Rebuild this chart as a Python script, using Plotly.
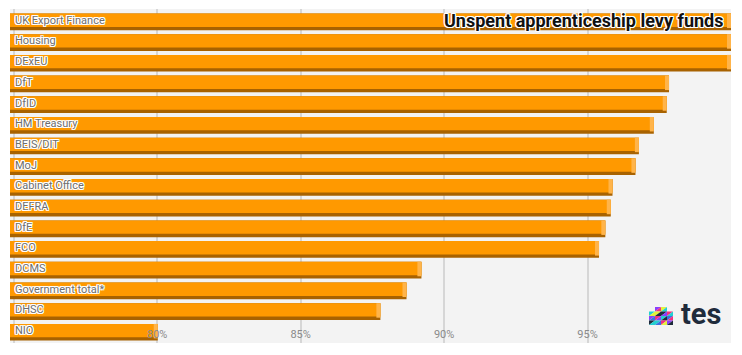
import plotly.graph_objects as go

categories = ["UK Export Finance", "Housing", "DExEU", "DfT", "DfID", "HM Treasury",
              "BEIS/DIT", "MoJ", "Cabinet Office", "DEFRA", "DfE", "FCO", "DCMS",
              "Government total*", "DHSC", "NIO"]
values = [100, 100, 100, 97.84, 97.76, 97.31, 96.79, 96.67, 95.87, 95.81, 95.62,
          95.40, 89.21, 88.69, 87.78, 80.02]
tick_vals = [75, 80, 85, 90, 95, 100]
tick_text = ["", "80%", "85%", "90%", "95%", ""]
title_text = "Unspent apprenticeship levy funds"

X_MIN, X_MAX = 74.87, 100.0
W, H = 742, 355
ML, MR, MT, MB = 10, 11, 9, 12
PW, PH = W - ML - MR, H - MT - MB

FACE = "#FF9900"
DARK = "#A86200"
BEVEL = "#FFB44A"
BEVEL_W = 0.14

white_halo = ("-1px -1px 0 #fff, 1px -1px 0 #fff, -1px 1px 0 #fff, 1px 1px 0 #fff, "
              "0 1px 0 #fff, 0 -1px 0 #fff, 1px 0 0 #fff, -1px 0 0 #fff")

fig = go.Figure()
fig.add_trace(go.Bar(y=categories, x=values, orientation="h", marker_color=DARK,
                     marker_line_width=0, width=0.807, offset=-0.403,
                     hoverinfo="skip", showlegend=False))
fig.add_trace(go.Bar(y=categories, x=values, orientation="h", marker_color=FACE,
                     marker_line_width=0, width=0.647, offset=-0.403,
                     hovertemplate="%{y}: %{x}%<extra></extra>", showlegend=False))
fig.add_trace(go.Bar(y=categories, x=[BEVEL_W] * len(values),
                     base=[v - BEVEL_W for v in values], orientation="h",
                     marker_color=BEVEL, marker_line_width=0, width=0.70, offset=-0.403,
                     hoverinfo="skip", showlegend=False))

annotations = []
for c in categories:
    annotations.append(dict(x=X_MIN, y=c, xref="x", yref="y", text=c, showarrow=False,
                            xanchor="left", yanchor="middle", xshift=3, yshift=1.6,
                            font=dict(family="Roboto", size=11, color="#6e6e6e",
                                      shadow=white_halo)))

annotations.append(dict(x=1, y=1 - (20.5 - MT) / PH, xref="paper", yref="paper",
                        text="<b>" + title_text + "</b>", showarrow=False,
                        xanchor="right", yanchor="middle", xshift=-6,
                        font=dict(family="Roboto", size=18, color="#111111",
                                  shadow=white_halo)))
annotations.append(dict(x=(701 - ML) / PW, y=1 - (314 - MT) / PH, xref="paper", yref="paper",
                        text="<b>tes</b>", showarrow=False, xanchor="center", yanchor="middle",
                        font=dict(family="Roboto", size=29, color="#1f2b3b")))

# tes logo mosaic (decoration)
palette = ["#8a3ffc", "#e3f23a", "#22d0d0", "#f2317f", "#1f2b3b", "#3b6fe0"]
pattern = [
    [None, 0, 1, None],
    [2, 1, 4, 3],
    [0, 3, 2, 5],
    [4, 2, 3, 0],
]
pattern2 = [
    [None, 3, 2, None],
    [1, 4, 0, 2],
    [5, 0, 4, 3],
    [2, 5, 1, 4],
]
shapes = []
cell = 6
x0p, y0p = 649, 307


def px(xp):
    return (xp - ML) / PW


def py(yp):
    return 1 - (yp - MT) / PH


for r in range(4):
    for k in range(4):
        cx, cy = x0p + k * cell, y0p + r * 4.5
        a = pattern[r][k]
        b = pattern2[r][k]
        if a is not None:
            shapes.append(dict(type="path", xref="paper", yref="paper", line_width=0,
                               fillcolor=palette[a],
                               path=f"M{px(cx)},{py(cy)} L{px(cx + cell)},{py(cy)} L{px(cx)},{py(cy + 4.5)} Z"))
        if b is not None:
            shapes.append(dict(type="path", xref="paper", yref="paper", line_width=0,
                               fillcolor=palette[b],
                               path=f"M{px(cx + cell)},{py(cy)} L{px(cx + cell)},{py(cy + 4.5)} L{px(cx)},{py(cy + 4.5)} Z"))

fig.update_layout(
    width=W, height=H, margin=dict(l=ML, r=MR, t=MT, b=MB, pad=0),
    paper_bgcolor="#ffffff", plot_bgcolor="#f3f3f3",
    barmode="overlay", showlegend=False,
    annotations=annotations, shapes=shapes,
    xaxis=dict(range=[X_MIN, X_MAX], tickvals=tick_vals, ticktext=tick_text,
               showgrid=True, gridcolor="#d6d6d6", gridwidth=1.5, zeroline=False,
               showline=False, ticks="", ticklabelposition="inside",
               tickfont=dict(family="Roboto", size=11, color="#8a8a8a"), fixedrange=True),
    yaxis=dict(type="category", categoryorder="array", categoryarray=categories,
               range=[15.52, -0.62], showgrid=False, zeroline=False, showline=False,
               showticklabels=False, ticks="", fixedrange=True),
)

fig.write_html("out.html", config={"displayModeBar": False})
